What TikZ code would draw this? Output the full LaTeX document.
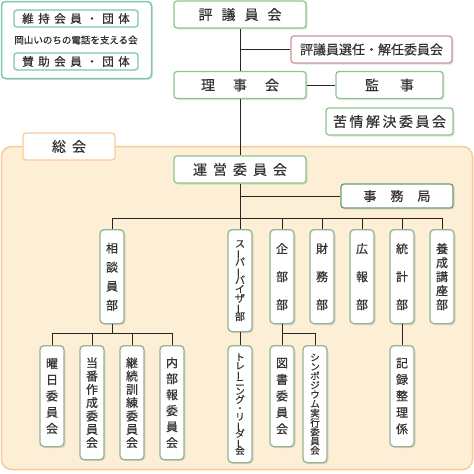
\documentclass[tikz,border=0pt]{standalone}
\usepackage{fontspec}
\usepackage{graphicx}
\newfontfamily\jp{Noto Sans CJK JP}[FakeBold=0.5]
\usetikzlibrary{shadows}
\definecolor{box-green}{HTML}{8DC58D}
\definecolor{dept-green}{HTML}{93B493}
\definecolor{office-green}{HTML}{6A9E72}
\definecolor{teal-line}{HTML}{7CC6B2}
\definecolor{rose-line}{HTML}{C99797}
\definecolor{orange-line}{HTML}{FCCA9A}
\definecolor{orange-fill}{HTML}{FDEED6}
\definecolor{ink}{gray}{0.2}
\tikzstyle{boxshadow}=[drop shadow={shadow xshift=1.5pt,shadow yshift=-1.5pt,opacity=0.22}]
\tikzstyle{tagbox}=[draw=box-green,line width=1.3pt,rounded corners=3pt,fill=white,inner sep=0pt,text=ink]
\tikzstyle{titlebox}=[tagbox,boxshadow,font=\jp\fontsize{14}{14}\selectfont]
\tikzstyle{deptbox}=[tagbox,draw=dept-green,rounded corners=4pt,boxshadow,minimum width=24,align=center,anchor=north]
\tikzstyle{link}=[line width=0.9pt,black!85]
\newcommand{\gap}[1]{\hspace{#1pt}}
\newcommand{\vcho}{\rotatebox[origin=c]{90}{ー}} % vertical long vowel mark
\newcommand{\dept}[6][12]{
  \node[deptbox,minimum height=#4,font={\jp\fontsize{#1}{#5}\selectfont\lineskiplimit=-20pt}] (#2) at (#3) {#6};
}
\begin{document}
\begin{tikzpicture}[x=1pt,y=-1pt]
\useasboundingbox (0,0) rectangle (474,474);
% supporters
\node[draw=teal-line,line width=1.5pt,rounded corners=4pt,fill=white,boxshadow,minimum width=150,minimum height=77,inner sep=0pt] (support) at (76.5,40) {};
\node[tagbox,draw=teal-line,minimum width=124,minimum height=17,font=\jp\fontsize{11.5}{11.5}\selectfont] (iji) at (76,18.5) {維\gap{4.5}持\gap{4.5}会\gap{4.5}員\gap{4.5}・\gap{4.5}団\gap{4.5}体};
\node[text=ink,font=\jp\fontsize{9.5}{9.5}\selectfont] (okayama) at (76,40) {岡山いのちの電話を支える会};
\node[tagbox,draw=teal-line,minimum width=124,minimum height=17,font=\jp\fontsize{11.5}{11.5}\selectfont] (sanjo) at (76,61.5) {賛\gap{4.5}助\gap{4.5}会\gap{4.5}員\gap{4.5}・\gap{4.5}団\gap{4.5}体};
% board
\node[titlebox,minimum width=132,minimum height=27] (hyogi) at (240,14.5) {評\gap{9}議\gap{9}員\gap{9}会};
\node[titlebox,draw=rose-line,minimum width=161,minimum height=27,font=\jp\fontsize{13}{13}\selectfont] (sennin) at (371.5,49.5) {評議員選任・解任委員会};
\node[titlebox,minimum width=132,minimum height=27] (riji) at (240,85) {理\gap{18}事\gap{18}会};
\node[titlebox,minimum width=107,minimum height=27] (kanji) at (389.5,85) {監\gap{21}事};
\node[titlebox,minimum width=127,minimum height=27] (kujo) at (389.5,121.5) {苦\gap{2.5}情\gap{2.5}解\gap{2.5}決\gap{2.5}委\gap{2.5}員\gap{2.5}会};
% general meeting
\node[draw=orange-line,line width=1.5pt,fill=orange-fill,rounded corners=10pt,minimum width=471,minimum height=323,inner sep=0pt] (soukai) at (237,308) {};
\node[tagbox,draw=orange-line,minimum width=92,minimum height=27,font=\jp\fontsize{14}{14}\selectfont] (soukaitab) at (69,146.5) {総\gap{6}会};
\node[titlebox,minimum width=132,minimum height=27] (unei) at (240,169.5) {運\gap{6}営\gap{6}委\gap{6}員\gap{6}会};
\node[titlebox,draw=office-green,minimum width=112,minimum height=24,font=\jp\fontsize{13}{13}\selectfont] (jimu) at (397,196) {事\gap{14}務\gap{14}局};
% departments
\dept{sodan}{112,229}{94}{19}{相\\談\\員\\部}
\dept[10]{super}{240,229}{102}{9.1}{ス\\\vcho\\パ\\\vcho\\バ\\イ\\ザ\\\vcho\\部}
\dept{kikaku}{282,229}{94}{28}{企\\部\\部}
\dept{zaimu}{322,229}{94}{28}{財\\務\\部}
\dept{koho}{362,229}{94}{28}{広\\報\\部}
\dept{tokei}{402,229}{94}{28}{統\\計\\部}
\dept{yosei}{442,229}{94}{14}{養\\成\\講\\座\\部}
% committees
\dept{youbi}{52,345}{101}{16.25}{曜\\日\\委\\員\\会}
\dept{touban}{92,345}{114}{13.3}{当\\番\\作\\成\\委\\員\\会}
\dept{keizoku}{132,345}{114}{13.3}{継\\続\\訓\\練\\委\\員\\会}
\dept{naibu}{172,345}{114}{16}{内\\部\\報\\委\\員\\会}
\dept[9.5]{training}{240,345}{117}{8.5}{ト\\レ\\\vcho\\ニ\\ン\\グ\\・\\リ\\\vcho\\ダ\\\vcho\\会}
\dept{tosho}{282,345}{101}{16.5}{図\\書\\委\\員\\会}
\dept[9.5]{sympo}{315,345}{117}{9.3}{シ\\ン\\ポ\\ジ\\ウ\\ム\\実\\行\\委\\員\\会}
\dept{kiroku}{402,345}{101}{16.5}{記\\録\\整\\理\\係}
% connectors
\coordinate (bar) at (0,218);
\coordinate (lbar) at (0,333);
\draw[link] (hyogi.south) -- (riji.north);
\draw[link] (sennin.west) -- (sennin.west -| hyogi.south);
\draw[link] (riji.east) -- (kanji.west);
\draw[link] (riji.south) -- (unei.north);
\draw[link] (jimu.west) -- (jimu.west -| unei.south);
\draw[link] (unei.south) -- (super.north);
\draw[link] (sodan.north) |- (bar -| yosei.north) -- (yosei.north);
\foreach \d in {kikaku,zaimu,koho,tokei}
  \draw[link] (\d.north) -- (\d.north |- bar);
\draw[link] (sodan.south) -- (sodan.south |- lbar);
\draw[link] (youbi.north) |- (lbar -| naibu.north) -- (naibu.north);
\foreach \d in {touban,keizoku}
  \draw[link] (\d.north) -- (\d.north |- lbar);
\draw[link] (super.south) -- (training.north);
\draw[link] (kikaku.south) -- (tosho.north);
\draw[link] (sympo.north) |- (tosho.north |- lbar);
\draw[link] (tokei.south) -- (kiroku.north);
\end{tikzpicture}
\end{document}
